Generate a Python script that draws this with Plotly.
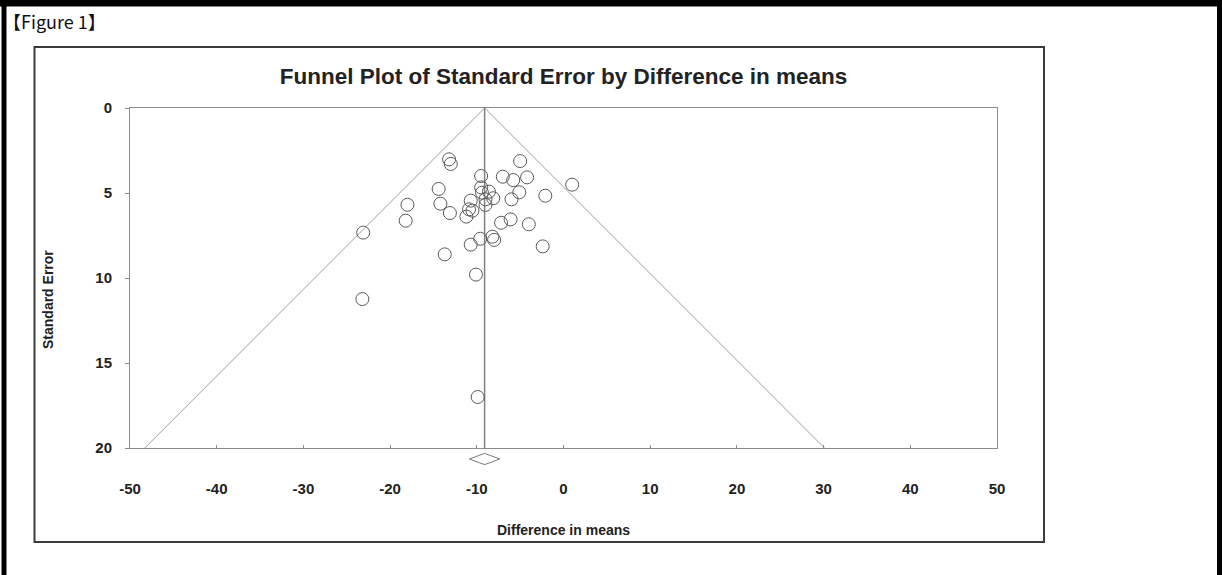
import plotly.graph_objects as go

# Study-level effects (difference in means) and their standard errors
diff_means = [-13.2, -13.0, -23.1, -18.0, -18.2, -14.4, -14.2, -13.1, -13.7, -11.2,
              -10.7, -10.9, -10.5, -10.7, -9.6, -10.1, -9.5, -9.5, -9.4, -8.6,
              -9.0, -8.1, -9.0, -8.2, -8.0, -7.0, -5.8, -5.0, -4.2, -5.1,
              -6.0, -7.2, -6.1, -4.0, -2.1, -2.4, 1.0, -9.9, -23.2]
std_errors = [3.02, 3.29, 7.33, 5.69, 6.63, 4.76, 5.63, 6.18, 8.61, 6.39,
              5.45, 5.96, 6.04, 8.04, 7.69, 9.80, 4.00, 4.67, 4.98, 4.92,
              5.37, 5.31, 5.70, 7.57, 7.76, 4.04, 4.24, 3.12, 4.08, 4.96,
              5.37, 6.75, 6.55, 6.84, 5.16, 8.14, 4.51, 17.0, 11.24]

# Pooled estimate and its confidence interval (summary diamond)
pooled = -9.1
pooled_ci = [-10.85, -7.35]

x_ticks = [-50, -40, -30, -20, -10, 0, 10, 20, 30, 40, 50]
y_ticks = [0, 5, 10, 15, 20]
se_limits = [0, 20]

W, H = 1222, 575
L, R, T, B = 130, 225, 108, 105
PW, PH = W - L - R, H - T - B


def px(xp):
    return (xp - L) / PW


def py(yp):
    return (H - B - yp) / PH


main_bottom = 448
main_domain = [py(main_bottom), 1.0]
diamond_domain = [py(468), py(450)]

FONT = "Arial, Liberation Sans, sans-serif"
GRAY = "#8c8c8c"

fig = go.Figure()

# 95% pseudo-confidence funnel
for side in (-1, 1):
    fig.add_trace(go.Scatter(
        x=[pooled + side * 1.96 * s for s in se_limits], y=se_limits,
        mode="lines", line=dict(color="#a0a0a0", width=1),
        hoverinfo="skip", showlegend=False))

# Vertical reference line at the pooled estimate
fig.add_trace(go.Scatter(
    x=[pooled, pooled], y=se_limits, mode="lines",
    line=dict(color="#808080", width=1.5), hoverinfo="skip", showlegend=False))

# Individual studies
fig.add_trace(go.Scatter(
    x=diff_means, y=std_errors, mode="markers",
    marker=dict(symbol="circle-open", size=13, color="#5a5a5a",
                line=dict(color="#5a5a5a", width=1)),
    showlegend=False))

# Summary diamond below the axis
fig.add_trace(go.Scatter(
    x=[pooled_ci[0], pooled, pooled_ci[1], pooled, pooled_ci[0]],
    y=[0, 1, 0, -1, 0], mode="lines", xaxis="x", yaxis="y2",
    line=dict(color="#7a7a7a", width=1), hoverinfo="skip", showlegend=False))

tickfont = dict(family=FONT, size=15, color="#222222")

fig.update_layout(
    width=W, height=H, autosize=False,
    margin=dict(l=L, r=R, t=T, b=B, pad=0),
    paper_bgcolor="white", plot_bgcolor="white",
    title=dict(text="<b>Funnel Plot of Standard Error by Difference in means</b>",
               font=dict(family=FONT, size=22.5, color="#222222"),
               x=0.5, xref="paper", xanchor="center",
               y=1 - 76 / H, yref="container", yanchor="middle"),
    xaxis=dict(range=[-50, 50], tickvals=x_ticks,
               ticktext=[f"<b>{v}</b>" for v in x_ticks],
               tickfont=tickfont, ticks="inside", ticklen=3, tickcolor=GRAY,
               showline=True, linecolor=GRAY, linewidth=1, mirror=True,
               showgrid=False, zeroline=False, anchor="y",
               ticklabelstandoff=27, fixedrange=True),
    yaxis=dict(range=[20, 0], domain=main_domain, tickvals=y_ticks,
               ticktext=[f"<b>{v}</b>" for v in y_ticks],
               tickfont=tickfont, ticks="outside", ticklen=4, tickcolor=GRAY,
               showline=True, linecolor=GRAY, linewidth=1, mirror=True,
               showgrid=False, zeroline=False, ticklabelstandoff=10,
               fixedrange=True),
    yaxis2=dict(range=[-1.6, 1.6], domain=diamond_domain, anchor="x",
                visible=False, showgrid=False, zeroline=False, fixedrange=True),
)

annotations = [
    dict(text="<b>Difference in means</b>", x=px(563), y=py(530),
         font=dict(family=FONT, size=14, color="#222222")),
    dict(text="<b>Standard Error</b>", x=px(48), y=py(300), textangle=-90,
         font=dict(family=FONT, size=14, color="#222222")),
    dict(text="【Figure 1】", x=px(1), y=py(21), xanchor="left",
         font=dict(family="Noto Sans CJK JP", size=18, color="#111111")),
]
for a in annotations:
    a.setdefault("xanchor", "center")
    fig.add_annotation(xref="paper", yref="paper", yanchor="middle",
                       showarrow=False, **a)

# Figure frame and page borders
shapes = [
    dict(type="rect", x0=px(34.5), x1=px(1044), y0=py(542), y1=py(47),
         line=dict(color="#3a3a3a", width=2), fillcolor="rgba(0,0,0,0)"),
    dict(type="rect", x0=px(0), x1=px(W), y0=py(0), y1=py(6.5),
         line=dict(width=0), fillcolor="black"),
    dict(type="rect", x0=px(1.5), x1=px(6.5), y0=py(0), y1=py(H),
         line=dict(width=0), fillcolor="black"),
    dict(type="rect", x0=px(1217), x1=px(W), y0=py(0), y1=py(H),
         line=dict(width=0), fillcolor="black"),
]
for s in shapes:
    fig.add_shape(xref="paper", yref="paper", layer="above", **s)

fig.write_html("out.html", config={"displayModeBar": False})
